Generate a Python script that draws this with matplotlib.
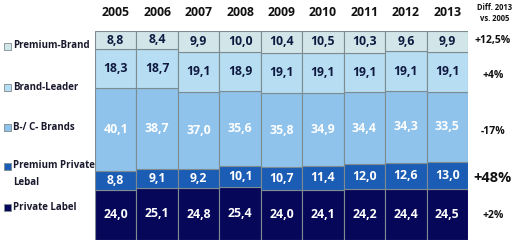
"""Stacked market share bars, 2005-2013, by brand segment."""
from matplotlib import pyplot as plt
import numpy as np

plt.rcParams['font.family'] = ['Open Sans', 'DejaVu Sans']

# Data
years = ['2005', '2006', '2007', '2008', '2009', '2010', '2011', '2012', '2013']
private_label = [24.0, 25.1, 24.8, 25.4, 24.0, 24.1, 24.2, 24.4, 24.5]
premium_private = [8.8, 9.1, 9.2, 10.1, 10.7, 11.4, 12.0, 12.6, 13.0]
bc_brands = [40.1, 38.7, 37.0, 35.6, 35.8, 34.9, 34.4, 34.3, 33.5]
brand_leader = [18.3, 18.7, 19.1, 18.9, 19.1, 19.1, 19.1, 19.1, 19.1]
premium_brand = [8.8, 8.4, 9.9, 10.0, 10.4, 10.5, 10.3, 9.6, 9.9]

segment_names = ['Private Label', 'Premium Private\nLebal', 'B-/ C- Brands',
                 'Brand-Leader', 'Premium-Brand']
diff_labels = ['+2%', '+48%', '-17%', '+4%', '+12,5%']

# stack order bottom -> top
segments = [private_label, premium_private, bc_brands, brand_leader, premium_brand]
colours = ['#07075a', '#1b5cb5', '#8fc3ec', '#b6ddf2', '#d2e6ea']
text_colours = ['white', 'white', 'white', '#101a40', '#101a40']

fig = plt.figure(figsize=(5.21, 2.44), dpi=100)
ax = fig.add_axes([95 / 521, 4 / 244, 373 / 521, 209 / 244])

x = np.arange(len(years))
bottom = np.zeros(len(years))
for values, col, tcol in zip(segments, colours, text_colours):
    values = np.array(values)
    ax.bar(x, values, width=1.0, bottom=bottom, color=col,
           edgecolor='#7d8c90', linewidth=0.8)
    for xi, b, v in zip(x, bottom, values):
        ax.text(xi, b + v / 2, f'{v:.1f}'.replace('.', ','), ha='center',
                va='center', color=tcol, fontsize=8.8, fontweight='bold')
    bottom += values

ax.set_xlim(-0.5, len(years) - 0.5)
ax.set_ylim(0, 100)
ax.axis('off')

# year labels above the bars
for xi, yr in zip(x, years):
    fig.text((95 + 373 * (xi + 0.5) / len(years)) / 521, 1 - 12 / 244, yr,
             ha='center', va='center', fontsize=8.8, fontweight='bold',
             color='#111111')

# legend on the left and diff column on the right
legend_y = [207, 166, 127, 87, 46]
diff_y = [216, 178, 132, 76, 41]
for name, col, ly in zip(segment_names, colours, legend_y):
    fy = 1 - ly / 244
    fig.patches.append(plt.Rectangle((4 / 521, fy - 3.5 / 244), 7 / 521, 7 / 244,
                                     transform=fig.transFigure, facecolor=col,
                                     edgecolor='#7d8c90', linewidth=0.6))
    if '\n' in name:
        fig.text(13 / 521, fy + 6 / 244, name, ha='left', va='top', fontsize=7,
                 fontweight='bold', color='#1a1a2e', linespacing=1.7)
    else:
        fig.text(13 / 521, fy, name, ha='left', va='center', fontsize=7,
                 fontweight='bold', color='#1a1a2e')

for lab, dy in zip(diff_labels, diff_y):
    size = 10.5 if lab == '+48%' else 7.5
    fig.text(493 / 521, 1 - dy / 244, lab, ha='center', va='center',
             fontsize=size, fontweight='bold', color='#111111')

fig.text(495 / 521, 1 - 13 / 244, 'Diff. 2013\nvs. 2005', ha='center',
         va='center', fontsize=5.5, fontweight='bold', color='#111111',
         linespacing=1.2)

plt.savefig('out.png', dpi=100)
